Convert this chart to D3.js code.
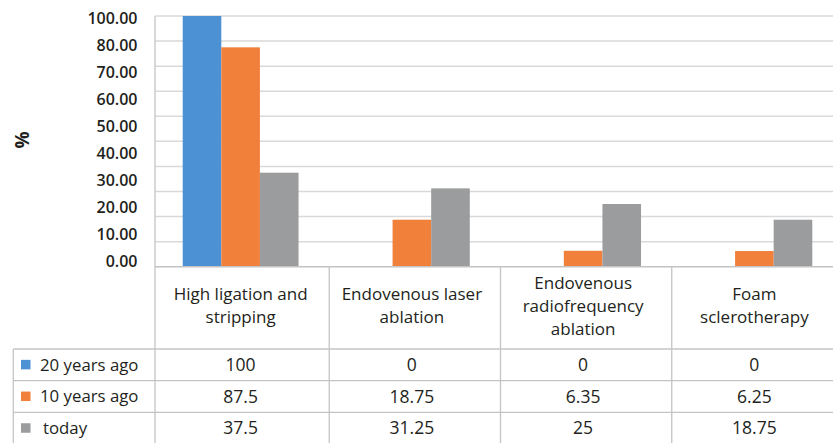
<!DOCTYPE html>
<html><head><meta charset="utf-8">
<script src="https://cdn.jsdelivr.net/npm/d3@7"></script>
<style>
html,body{margin:0;padding:0;background:#fff;}
svg text{font-family:"Open Sans","Noto Sans",sans-serif;fill:#231f20;}
</style></head>
<body><svg id="c" width="833" height="443"></svg>
<script>
const categories = ["High ligation and stripping","Endovenous laser ablation","Endovenous radiofrequency ablation","Foam sclerotherapy"];
const categoryLines = [["High ligation and","stripping"],["Endovenous laser","ablation"],["Endovenous","radiofrequency","ablation"],["Foam","sclerotherapy"]];
const seriesNames = ["20 years ago","10 years ago","today"];
const values20 = [100,0,0,0];
const values10 = [87.5,18.75,6.35,6.25];
const valuesToday = [37.5,31.25,25,18.75];
const tableLabels20 = ["100","0","0","0"];
const tableLabels10 = ["87.5","18.75","6.35","6.25"];
const tableLabelsToday = ["37.5","31.25","25","18.75"];
const tickLabels = ["100.00","80.00","70.00","60.00","50.00","40.00","30.00","20.00","10.00","0.00"];
const gridValues = [0,10,20,30,40,50,60,70,80,90,100];
const colors = ["#4b91d4","#f0803a","#9b9c9d"];

const series = [values20, values10, valuesToday];
const tableRows = [tableLabels20, tableLabels10, tableLabelsToday];

const svg = d3.select("#c");
const plotLeft = 155, plotRight = 840, plotTop = 16, plotBottom = 266.7;
const headerBottom = 349, rowH = 31.7, tableLeft = 13.3;

const pad = 0.3236;
const x0 = d3.scaleBand().domain(categories).range([plotLeft, plotRight]).paddingInner(pad).paddingOuter(pad/2);
const x1 = d3.scaleBand().domain(seriesNames).range([0, x0.bandwidth()]);
const y = d3.scaleLinear().domain([0,100]).range([plotBottom, plotTop]);
const yLab = d3.scalePoint().domain(tickLabels).range([18.3, 261.7]);
const rowY = d3.scaleBand().domain(seriesNames).range([headerBottom, headerBottom + 3*rowH]);

// gridlines
svg.append("g").selectAll("line").data(gridValues.filter(v=>v>0)).join("line")
  .attr("x1", plotLeft).attr("x2", 833).attr("y1", d=>y(d)).attr("y2", d=>y(d))
  .attr("stroke","#d9d9d9").attr("stroke-width",1.5);

// bars
const g = svg.append("g");
series.forEach((vals, si) => {
  g.append("g").selectAll("rect").data(vals.map((v,i)=>({v, c:categories[i]}))).join("rect")
    .attr("x", d => x0(d.c) + x1(seriesNames[si]))
    .attr("width", x1.bandwidth())
    .attr("y", d => y(d.v))
    .attr("height", d => y(0) - y(d.v))
    .attr("fill", colors[si]);
});

// axis line & left border
svg.append("line").attr("x1",plotLeft).attr("x2",833).attr("y1",y(0)).attr("y2",y(0)).attr("stroke","#c4c4c4").attr("stroke-width",1.5);
svg.append("line").attr("x1",plotLeft).attr("x2",plotLeft).attr("y1",y(100)).attr("y2",443).attr("stroke","#c4c4c4").attr("stroke-width",1.3);

// y tick labels
svg.append("g").selectAll("text").data(tickLabels).join("text")
  .attr("x",137.5).attr("y",d=>yLab(d)).attr("dy","0.35em")
  .attr("text-anchor","end").attr("font-size","16px").attr("font-weight",600)
  .text(d=>d);

// % title
svg.append("text").attr("transform","translate(22,140) rotate(-90)")
  .attr("text-anchor","middle").attr("dy","0.35em")
  .attr("font-size","19px").attr("font-weight",700).text("%");

// table lines
const colBounds = categories.slice(1).map(c => x0(c) - x0.step()*pad/2 + 3);
svg.append("g").selectAll("line").data(colBounds).join("line")
  .attr("x1",d=>d).attr("x2",d=>d).attr("y1",y(0)).attr("y2",443)
  .attr("stroke","#c4c4c4").attr("stroke-width",1.3);
svg.append("line").attr("x1",tableLeft).attr("x2",tableLeft).attr("y1",headerBottom).attr("y2",443)
  .attr("stroke","#c4c4c4").attr("stroke-width",1.3);
svg.append("g").selectAll("line").data(seriesNames).join("line")
  .attr("x1",tableLeft).attr("x2",833).attr("y1",d=>rowY(d)).attr("y2",d=>rowY(d))
  .attr("stroke","#c4c4c4").attr("stroke-width",1.3);

// header text
const headerMid = (y(0)+headerBottom)/2;
categories.forEach((c,i) => {
  const lines = categoryLines[i];
  const lh = 23;
  const t = svg.append("text").attr("text-anchor","middle").attr("font-size","17px");
  lines.forEach((ln,j) => {
    t.append("tspan").attr("x", x0(c)+x0.bandwidth()/2)
      .attr("y", headerMid + (j - (lines.length-1)/2)*lh - 2).attr("dy","0.35em").text(ln);
  });
});

// rows
seriesNames.forEach((s,si) => {
  const cy = rowY(s) + rowY.bandwidth()/2;
  svg.append("rect").attr("x",21).attr("y",cy-5).attr("width",9.5).attr("height",9.5).attr("fill",colors[si]);
  svg.append("text").attr("x", si===2 ? 43 : 40).attr("y",cy).attr("dy","0.35em").attr("font-size","16.8px").text(s);
  categories.forEach((c,i) => {
    svg.append("text").attr("x",x0(c)+x0.bandwidth()/2).attr("y",cy).attr("dy","0.35em")
      .attr("text-anchor","middle").attr("font-size","17.5px").text(tableRows[si][i]);
  });
});
</script></body></html>
